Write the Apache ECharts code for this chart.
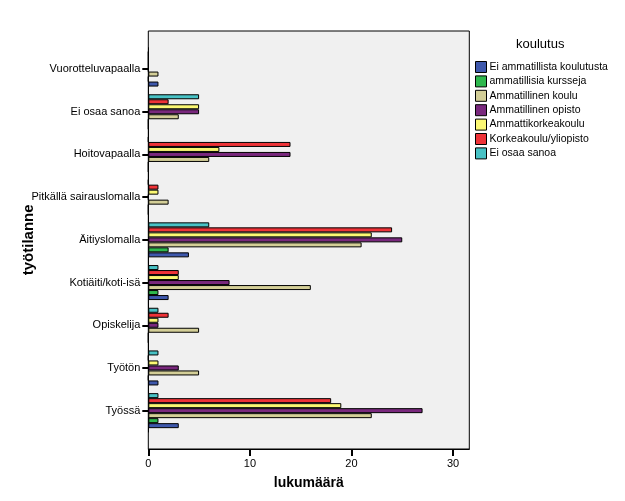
<!DOCTYPE html>
<html>
<head>
<meta charset="utf-8">
<script src="https://cdn.jsdelivr.net/npm/echarts@6/dist/echarts.min.js"></script>
<style>
html,body{margin:0;padding:0;background:#fff;}
#chart{width:625px;height:501px;}
</style>
</head>
<body>
<div id="chart"></div>
<script>
// categories from bottom to top (ECharts category y-axis runs upward)
var categories = ["Työssä", "Työtön", "Opiskelija", "Kotiäiti/koti-isä", "Äitiyslomalla", "Pitkällä sairauslomalla", "Hoitovapaalla", "Ei osaa sanoa", "Vuorotteluvapaalla"];
var seriesNames = ["Ei ammatillista koulutusta", "ammatillisia kursseja", "Ammatillinen koulu", "Ammatillinen opisto", "Ammattikorkeakoulu", "Korkeakoulu/yliopisto", "Ei osaa sanoa"];
var eiAmmatillista = [3, 1, 0, 2, 4, 0, 0, 0, 1];
var kursseja       = [1, 0, 0, 1, 2, 0, 0, 0, 0];
var koulu          = [22, 5, 5, 16, 21, 2, 6, 3, 1];
var opisto         = [27, 3, 1, 8, 25, 0, 14, 5, 0];
var amk            = [19, 1, 1, 3, 22, 1, 7, 5, 0];
var korkeakoulu    = [18, 0, 2, 3, 24, 1, 14, 2, 0];
var eiOsaa         = [1, 1, 1, 1, 6, 0, 0, 5, 0];
var xTicks = [0, 10, 20, 30];

var values = [eiAmmatillista, kursseja, koulu, opisto, amk, korkeakoulu, eiOsaa];
var colors = ["#3E58AC", "#2EB84E", "#D3CE97", "#79287D", "#FBF873", "#EF3338", "#48C2C5"];
var FONT = "'Liberation Sans', Arial, sans-serif";

var series = seriesNames.map(function (n, i) {
  return {
    name: n,
    type: 'bar',
    data: values[i],
    barWidth: 5,
    barGap: '0%',
    itemStyle: { color: colors[i], borderColor: '#000', borderWidth: 1 },
    emphasis: { disabled: true },
    animation: false
  };
}).reverse(); // first series drawn at the top of each group; reference has blue at the bottom

var chart = echarts.init(document.getElementById('chart'));
chart.setOption({
  backgroundColor: '#fff',
  animation: false,
  textStyle: { fontFamily: FONT },
  title: {
    text: 'koulutus',
    left: 516, top: 38,
    padding: 0,
    textStyle: { fontFamily: FONT, fontSize: 13, fontWeight: 'normal', color: '#000' }
  },
  graphic: [{
    type: 'rect',
    z: -10,
    shape: { x: 148.3, y: 31, width: 321, height: 418 },
    style: { fill: '#f0f0f0', stroke: '#000', lineWidth: 1 }
  }],
  legend: {
    orient: 'vertical',
    left: 475, top: 61,
    padding: 0,
    itemWidth: 11, itemHeight: 11, itemGap: 2.4,
    icon: 'rect',
    selectedMode: false,
    itemStyle: { borderWidth: 1, borderColor: '#000' },
    textStyle: { fontFamily: FONT, fontSize: 10.5, lineHeight: 11, color: '#000', padding: [0, 0, 0, -2] },
    data: seriesNames
  },
  grid: { left: 148.3, width: 321, top: 47.7, height: 384.3, containLabel: false, outerBoundsMode: 'none' },
  xAxis: {
    type: 'value',
    min: 0, max: 31.6, interval: 10,
    offset: 17,
    name: 'lukumäärä',
    nameLocation: 'middle',
    nameGap: 27,
    nameMoveOverlap: false,
    nameTextStyle: { fontFamily: FONT, fontSize: 14, fontWeight: 'bold', color: '#000' },
    axisLine: { show: true, lineStyle: { color: '#000', width: 1 } },
    axisTick: { show: true, length: 7, lineStyle: { color: '#000', width: 2 } },
    axisLabel: {
      margin: 9, fontSize: 11, color: '#000', fontFamily: FONT, showMaxLabel: false,
      formatter: function (v) { return xTicks.indexOf(v) >= 0 ? String(v) : ''; }
    },
    splitLine: { show: false }
  },
  yAxis: {
    type: 'category',
    data: categories,
    name: 'työtilanne',
    nameLocation: 'middle',
    nameGap: 112,
    nameMoveOverlap: false,
    nameTextStyle: { fontFamily: FONT, fontSize: 15, fontWeight: 'bold', color: '#000' },
    axisLine: { show: true, lineStyle: { color: '#000', width: 1 } },
    axisTick: { show: true, alignWithLabel: true, interval: 0, length: 6, lineStyle: { color: '#000', width: 2 } },
    axisLabel: { interval: 0, margin: 8, fontSize: 11, color: '#000', fontFamily: FONT },
    splitLine: { show: false }
  },
  series: series
});
</script>
</body>
</html>
